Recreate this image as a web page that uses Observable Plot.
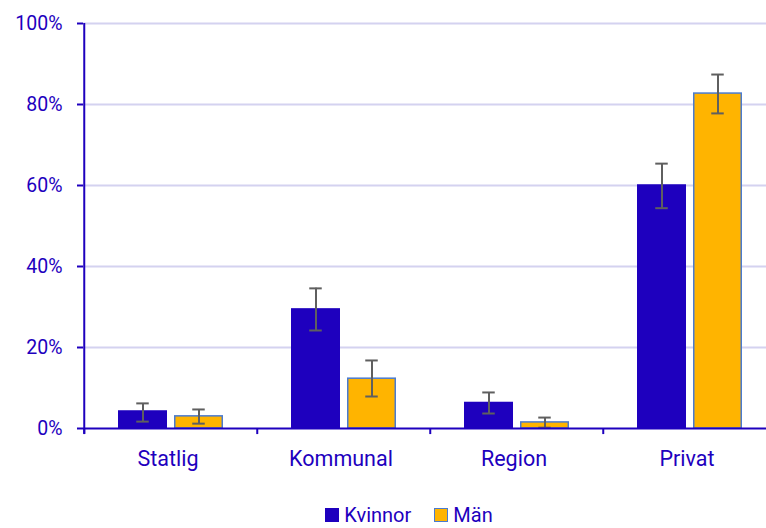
<!DOCTYPE html>
<html>
<head>
<meta charset="utf-8">
<script src="https://cdn.jsdelivr.net/npm/d3@7"></script>
<script src="https://cdn.jsdelivr.net/npm/@observablehq/plot@0.6"></script>
<style>
  html, body { margin: 0; padding: 0; background: #fff; }
  body { width: 766px; height: 528px; overflow: hidden; font-family: Roboto, sans-serif; }
  #legend { display: flex; justify-content: center; gap: 23px; margin-top: 4px; padding-left: 52px; font-size: 20px; line-height: 22px; color: #1E00BE; }
  #legend span.item { display: flex; align-items: center; gap: 5px; }
  #legend span.sw { display: inline-block; width: 14px; height: 14px; box-sizing: border-box; }
</style>
</head>
<body>
<div id="chart"></div>
<div id="legend"></div>
<script>
const categories = ["Statlig", "Kommunal", "Region", "Privat"];
const series = ["Kvinnor", "Män"];
const kvinnor = [4.2, 29.4, 6.3, 60.0];
const kvinnorLow = [1.7, 24.2, 3.7, 54.4];
const kvinnorHigh = [6.2, 34.6, 8.9, 65.4];
const man = [3.0, 12.3, 1.5, 82.7];
const manLow = [1.2, 7.9, 0.2, 77.8];
const manHigh = [4.7, 16.8, 2.7, 87.4];
const yTicks = [0, 20, 40, 60, 80, 100];

const colors = {Kvinnor: "#1E00BE", "Män": "#FFB400"};
const strokes = {Kvinnor: "#1E00BE", "Män": "#4A7BD0"};
const axisColor = "#1E00BE";

const data = [];
categories.forEach((c, i) => {
  data.push({category: c, series: "Kvinnor", value: kvinnor[i], low: kvinnorLow[i], high: kvinnorHigh[i]});
  data.push({category: c, series: "Män", value: man[i], low: manLow[i], high: manHigh[i]});
});

const width = 766, height = 500;
const marginLeft = 83, marginRight = -11;
const bw = (width - marginLeft - marginRight) / categories.length;
const barW = 48, gap = 8;
const outer = (bw - 2 * barW - gap) / 2;
const insetFor = (s) => s === "Kvinnor"
  ? {insetLeft: outer, insetRight: bw - outer - barW}
  : {insetLeft: outer + barW + gap, insetRight: outer};
const capW = 13;
const capInsetFor = (s) => {
  const ins = insetFor(s);
  const extra = (barW - capW) / 2;
  return {insetLeft: ins.insetLeft + extra, insetRight: ins.insetRight + extra};
};

const marks = [
  Plot.ruleY(yTicks.filter(d => d > 0), {stroke: "#D4D2F0", strokeWidth: 2}),
];
for (const s of series) {
  const d = data.filter(r => r.series === s);
  marks.push(Plot.barY(d, {x: "category", y: "value", fill: colors[s], stroke: strokes[s], strokeWidth: 1.5, ...insetFor(s)}));
}
for (const s of series) {
  const d = data.filter(r => r.series === s);
  const ins = insetFor(s);
  const centerDx = (ins.insetLeft - ins.insetRight) / 2;
  marks.push(Plot.ruleX(d, {x: "category", y1: "low", y2: "high", stroke: "#5F5F5F", strokeWidth: 2, dx: centerDx}));
  marks.push(Plot.tickY(d, {x: "category", y: "low", stroke: "#5F5F5F", strokeWidth: 2, ...capInsetFor(s)}));
  marks.push(Plot.tickY(d, {x: "category", y: "high", stroke: "#5F5F5F", strokeWidth: 2, ...capInsetFor(s)}));
}
// axes lines
marks.push(Plot.ruleY([0], {stroke: axisColor, strokeWidth: 2}));
marks.push(Plot.ruleX([categories[0]], {x: d => d, y1: -1.4, y2: 100, stroke: axisColor, strokeWidth: 2, dx: -bw / 2}));
marks.push(Plot.ruleX(categories, {x: d => d, y1: -1.5, y2: 0, stroke: axisColor, strokeWidth: 2, dx: -bw / 2}));
marks.push(Plot.axisY({ticks: yTicks, tickFormat: d => d + "%", tickSize: 6, tickPadding: 15, stroke: axisColor, strokeWidth: 2, fill: axisColor, fontSize: 19.5, label: null}));
marks.push(Plot.axisX({tickSize: 0, tickPadding: 22, fill: axisColor, fontSize: 21.5, label: null, dx: -3}));

const plot = Plot.plot({
  width, height,
  marginLeft, marginRight, marginTop: 23, marginBottom: 72,
  style: {fontFamily: "Roboto, sans-serif", color: axisColor, background: "#fff"},
  x: {domain: categories, paddingInner: 0, paddingOuter: 0, label: null},
  y: {domain: [0, 100], label: null},
  marks
});
document.getElementById("chart").appendChild(plot);

const legend = document.getElementById("legend");
for (const s of series) {
  const item = document.createElement("span");
  item.className = "item";
  const sw = document.createElement("span");
  sw.className = "sw";
  sw.style.background = colors[s];
  sw.style.border = `1.5px solid ${strokes[s]}`;
  item.appendChild(sw);
  item.appendChild(document.createTextNode(s));
  legend.appendChild(item);
}
</script>
</body>
</html>
